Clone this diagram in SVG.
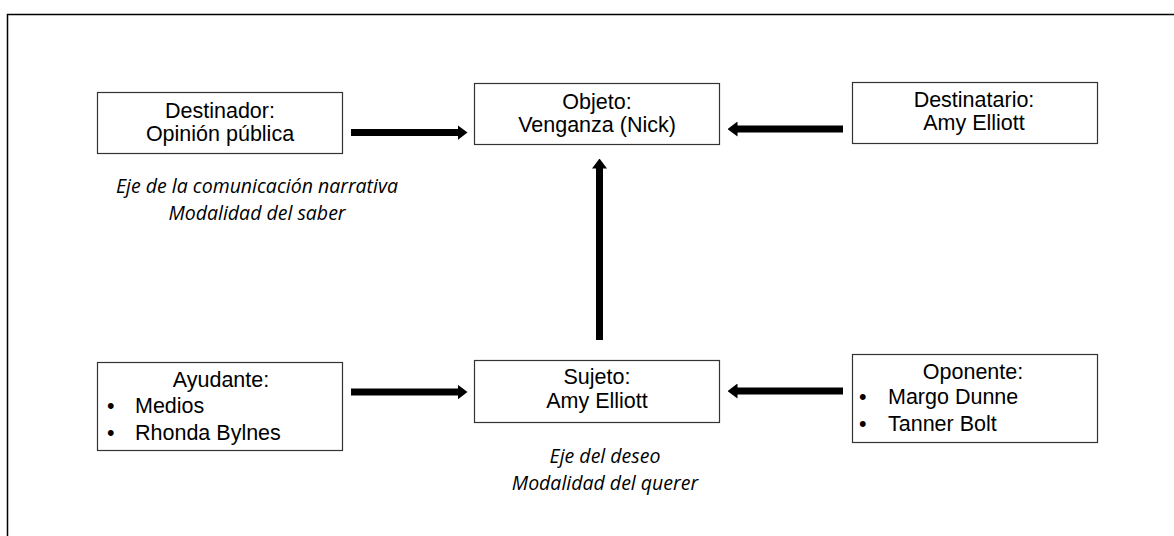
<svg xmlns="http://www.w3.org/2000/svg" width="1174" height="536" viewBox="0 0 1174 536">
<defs>
<style>
.box{fill:#fff;stroke:#333;stroke-width:1.2}
.lbl{font-family:"Liberation Sans",Arial,sans-serif;font-size:21.5px;fill:#000}
.c{text-anchor:middle}
.it{font-family:"Open Sans","Lato",sans-serif;font-style:italic;font-size:19.5px;fill:#000;text-anchor:middle}
.ar{stroke:#000;stroke-width:7;fill:none;marker-end:url(#ah)}
</style>
<marker id="ah" markerWidth="10" markerHeight="15" refX="0.5" refY="7.5" orient="auto" markerUnits="userSpaceOnUse">
<path d="M0,0 L10,7.5 L0,15 Z" fill="#000"/>
</marker>
</defs>
<rect x="0" y="0" width="1174" height="536" fill="#fff"/>
<rect x="7.5" y="14.5" width="1180" height="540" fill="none" stroke="#000" stroke-width="1.5"/>
<g id="connectors">
<line class="ar" x1="351" y1="132.5" x2="458" y2="132.5"/>
<line class="ar" x1="843" y1="129" x2="737" y2="129"/>
<line class="ar" x1="599.5" y1="340" x2="599.5" y2="168"/>
<line class="ar" x1="351" y1="392" x2="458" y2="392"/>
<line class="ar" x1="843" y1="391" x2="737" y2="391"/>
</g>
<g id="destinador">
<rect class="box" x="97.5" y="92.5" width="245" height="61"/>
<text class="lbl c" x="220" y="118">Destinador:</text>
<text class="lbl c" x="220" y="141">Opinión pública</text>
</g>
<g id="objeto">
<rect class="box" x="474.5" y="83.5" width="245" height="61"/>
<text class="lbl c" x="597" y="109">Objeto:</text>
<text class="lbl c" x="597" y="132">Venganza (Nick)</text>
</g>
<g id="destinatario">
<rect class="box" x="852.5" y="82.5" width="245" height="61"/>
<text class="lbl c" x="974" y="107">Destinatario:</text>
<text class="lbl c" x="974" y="130">Amy Elliott</text>
</g>
<g id="ayudante">
<rect class="box" x="97.5" y="362.5" width="245" height="88"/>
<text class="lbl c" x="221" y="387">Ayudante:</text>
<text class="lbl" x="107" y="413">•</text>
<text class="lbl" x="135" y="413">Medios</text>
<text class="lbl" x="107" y="440">•</text>
<text class="lbl" x="135" y="440">Rhonda Bylnes</text>
</g>
<g id="sujeto">
<rect class="box" x="474.5" y="360.5" width="245" height="62"/>
<text class="lbl c" x="597" y="384">Sujeto:</text>
<text class="lbl c" x="597" y="408">Amy Elliott</text>
</g>
<g id="oponente">
<rect class="box" x="852.5" y="354.5" width="245" height="88"/>
<text class="lbl c" x="973" y="379">Oponente:</text>
<text class="lbl" x="859" y="404">•</text>
<text class="lbl" x="888" y="404">Margo Dunne</text>
<text class="lbl" x="859" y="431">•</text>
<text class="lbl" x="888" y="431">Tanner Bolt</text>
</g>
<g id="eje-comunicacion">
<text class="it" x="257" y="193">Eje de la comunicación narrativa</text>
<text class="it" x="257" y="220">Modalidad del saber</text>
</g>
<g id="eje-deseo">
<text class="it" x="605" y="463">Eje del deseo</text>
<text class="it" x="605" y="490">Modalidad del querer</text>
</g>
</svg>
